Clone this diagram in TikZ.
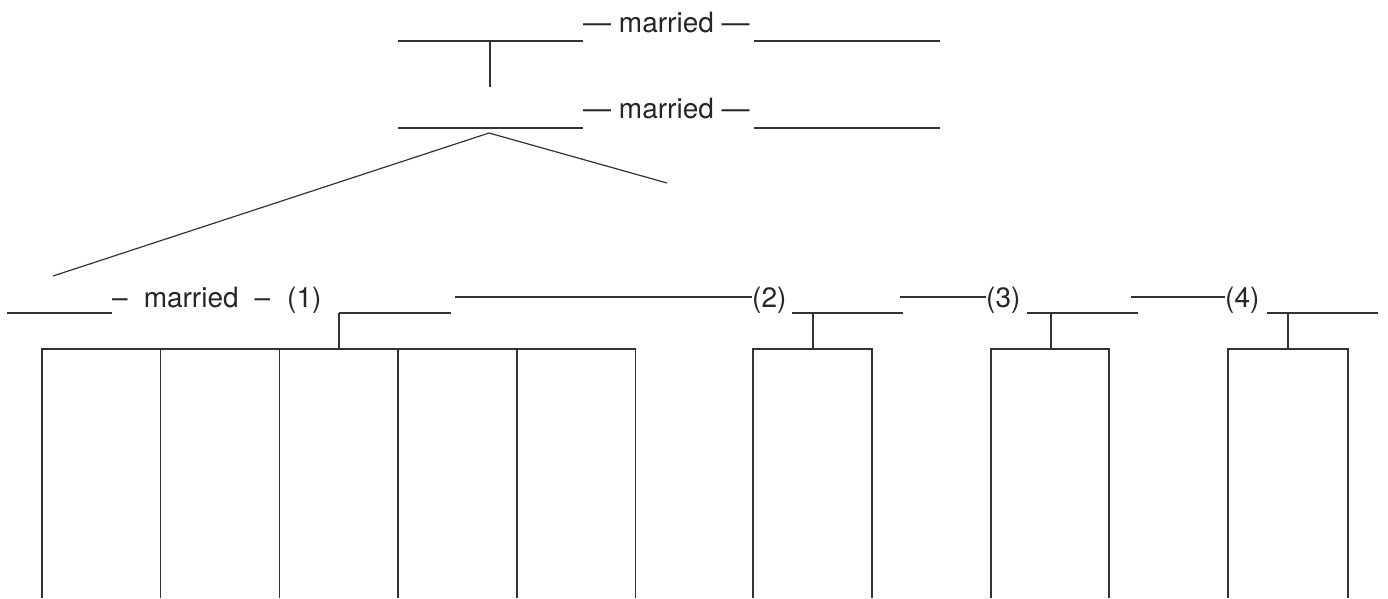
\documentclass[tikz,border=0pt]{standalone}
\usepackage{fontspec}
\setmainfont{TeX Gyre Heros}
\begin{document}
\begin{tikzpicture}[x=1pt,y=-1pt,
  ln/.style={line width=1.4pt,draw=black!80},
  lbl/.style={inner sep=0pt,font=\fontsize{28}{30}\selectfont,text=black!85}]
\useasboundingbox (0,0) rectangle (1388,598);
% ---------- generation 1 ----------
\coordinate (g1a) at (398,41); \coordinate (g1b) at (583,41);
\coordinate (g1c) at (754,41); \coordinate (g1d) at (940,41);
\node[lbl,anchor=base west] (m1) at (583,32) {— married —};
\draw[ln] (g1a) -- (g1b);
\draw[ln] (g1c) -- (g1d);
\coordinate (d1) at (490,41); \coordinate (d1e) at (490,87);
\draw[ln] (d1) -- (d1e);
% ---------- generation 2 ----------
\coordinate (g2a) at (398,128); \coordinate (g2b) at (583,128);
\coordinate (g2c) at (754,128); \coordinate (g2d) at (940,128);
\node[lbl,anchor=base west] (m2) at (583,118) {— married —};
\draw[ln] (g2a) -- (g2b);
\draw[ln] (g2c) -- (g2d);
\coordinate (apex) at (489,133);
\coordinate (brL) at (53,276); \coordinate (brR) at (667,183);
\draw[ln,line width=1.2pt] (brL) -- (apex) -- (brR);
% ---------- generation 3 ----------
\coordinate (h1a) at (7,313); \coordinate (h1b) at (112,313);
\draw[ln] (h1a) -- (h1b);
\node[lbl,anchor=base west] (m3) at (112,307) {–\hspace{16pt}married\hspace{16pt}–\hspace{17pt}(1)};
\coordinate (s1a) at (339,313); \coordinate (s1b) at (451,313);
\draw[ln] (s1a) -- (s1b);
\coordinate (k1) at (339,349);
\draw[ln] (s1a) -- (k1);
\draw[ln] (42,598) -- (42,349) -- (635.5,349) -- (635.5,598);
\foreach \x in {160.7,279.4,398.1,516.8}
  \draw[ln] (\x,349) -- (\x,598);
% spouse (2)
\node[lbl,anchor=base west] (p2) at (752,307) {(2)};
\coordinate (l2) at (455,297);
\draw[ln] (l2) -- (l2 -| p2.west);
\coordinate (s2a) at (792,313); \coordinate (s2b) at (903,313);
\draw[ln] (s2a) -- (s2b);
\draw[ln] (813,313) -- (813,349);
\draw[ln] (753,598) -- (753,349) -- (872,349) -- (872,598);
% spouse (3)
\node[lbl,anchor=base west] (p3) at (986,307) {(3)};
\coordinate (l3) at (900,297);
\draw[ln] (l3) -- (l3 -| p3.west);
\coordinate (s3a) at (1027,313); \coordinate (s3b) at (1138,313);
\draw[ln] (s3a) -- (s3b);
\draw[ln] (1051,313) -- (1051,349);
\draw[ln] (991,598) -- (991,349) -- (1109,349) -- (1109,598);
% spouse (4)
\node[lbl,anchor=base west] (p4) at (1225,307) {(4)};
\coordinate (l4) at (1131,297);
\draw[ln] (l4) -- (l4 -| p4.west);
\coordinate (s4a) at (1267,313); \coordinate (s4b) at (1378,313);
\draw[ln] (s4a) -- (s4b);
\draw[ln] (1288,313) -- (1288,349);
\draw[ln] (1228,598) -- (1228,349) -- (1348,349) -- (1348,598);
\end{tikzpicture}
\end{document}
